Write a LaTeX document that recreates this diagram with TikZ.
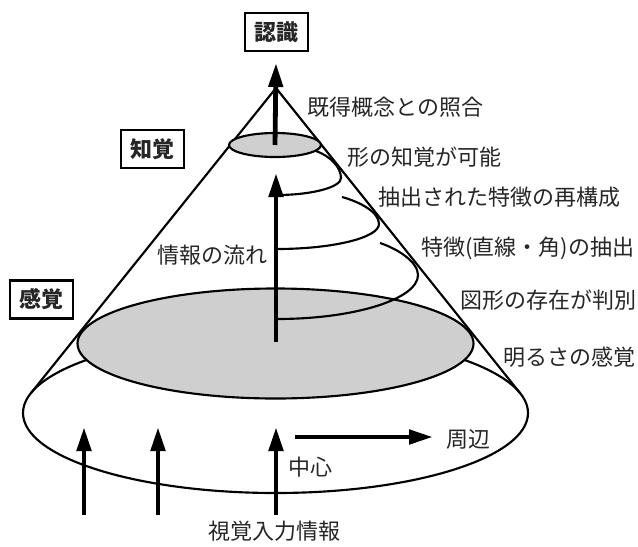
\documentclass[tikz,border=0pt]{standalone}
\usepackage{fontspec}
\newfontfamily\jp{Noto Sans CJK JP}
\usetikzlibrary{arrows.meta}
\begin{document}
\begin{tikzpicture}[x=0.75pt,y=-0.75pt,
  conestroke/.style={line width=1.6pt, draw=black},
  bigarrow/.style={line width=3.6pt, draw=black, -{Triangle[length=18pt,width=10.5pt]}},
  labelbox/.style={draw=black, line width=1.7pt, minimum width=47pt, minimum height=28.5pt, inner sep=0pt, text=black!85, font=\jp\bfseries\fontsize{16.5pt}{20pt}\selectfont},
  lbl/.style={font=\jp\fontsize{16.5pt}{20pt}\selectfont, inner sep=0pt, text=black!85}
]
\useasboundingbox (0,0) rectangle (638,546);

% key coordinates
\coordinate (apex) at (276,88);
\coordinate (tl) at (30.8,393.3);
\coordinate (tr) at (520.2,393.3);
\coordinate (bottomc) at (275.5,413);
\coordinate (grayc) at (275.5,343.5);
\coordinate (topc) at (275,145);

% bottom ellipse
\draw[conestroke] (bottomc) ellipse [x radius=252.5, y radius=80];
% cone sides
\draw[conestroke] (tl) -- (apex) -- (tr);
% gray ellipse (sensation level)
\draw[conestroke, fill=black!19] (grayc) ellipse [x radius=198, y radius=55];
% top ellipse
\draw[conestroke, fill=black!19] (topc) ellipse [x radius=46, y radius=12];

% spiral arcs
\coordinate (s1) at (316,151); \coordinate (r1) at (341,178); \coordinate (e1) at (277,195);
\coordinate (s2) at (342,197); \coordinate (r2) at (379,224); \coordinate (e2) at (277,249);
\coordinate (s3) at (380,243); \coordinate (r3) at (418,275); \coordinate (e3) at (277,319);
\draw[conestroke] (s1) .. controls (330,156) and (341,167) .. (r1)
  .. controls (341,187.4) and (311.3,195) .. (e1);
\draw[conestroke] (s2) .. controls (360,202) and (379,212) .. (r2)
  .. controls (379,237.8) and (332.3,249) .. (e2);
\draw[conestroke] (s3) .. controls (398,249) and (418,262) .. (r3)
  .. controls (418,299) and (354.8,319) .. (e3);

% arrows
\coordinate (toptip) at (276,63);
\coordinate (midbase) at (276,342);
\coordinate (midtip) at (276,173);
\draw[bigarrow] (topc) -- (toptip);
\draw[bigarrow] (midbase) -- (midtip);
\coordinate (b1s) at (84,515);  \coordinate (b1t) at (84,427);
\coordinate (b2s) at (158,515); \coordinate (b2t) at (158,427);
\coordinate (b3s) at (276,515); \coordinate (b3t) at (276,427);
\draw[bigarrow] (b1s) -- (b1t);
\draw[bigarrow] (b2s) -- (b2t);
\draw[bigarrow] (b3s) -- (b3t);
\coordinate (hs) at (295,437); \coordinate (ht) at (433,437);
\draw[bigarrow] (hs) -- (ht);

% boxes
\node[labelbox] (ninshiki) at (276.5,32) {認識};
\node[labelbox] (chikaku) at (152.5,149) {知覚};
\node[labelbox] (kankaku) at (41.5,299.5) {感覚};

% labels
\node[lbl, anchor=west] (l1) at (307,107) {既得概念との照合};
\node[lbl, anchor=west] (l2) at (347,157) {形の知覚が可能};
\node[lbl, anchor=west] (l3) at (378,197) {抽出された特徴の再構成};
\node[lbl, anchor=west] (l4) at (421,248) {特徴(直線・角)の抽出};
\node[lbl, anchor=west] (l5) at (460,300) {図形の存在が判別};
\node[lbl, anchor=west] (l6) at (503,357) {明るさの感覚};
\node[lbl, anchor=west] (flow) at (157,255) {情報の流れ};
\node[lbl, anchor=west] (center) at (288,467) {中心};
\node[lbl, anchor=west] (periph) at (446,439) {周辺};
\node[lbl] (input) at (274.5,531) {視覚入力情報};
\end{tikzpicture}
\end{document}
